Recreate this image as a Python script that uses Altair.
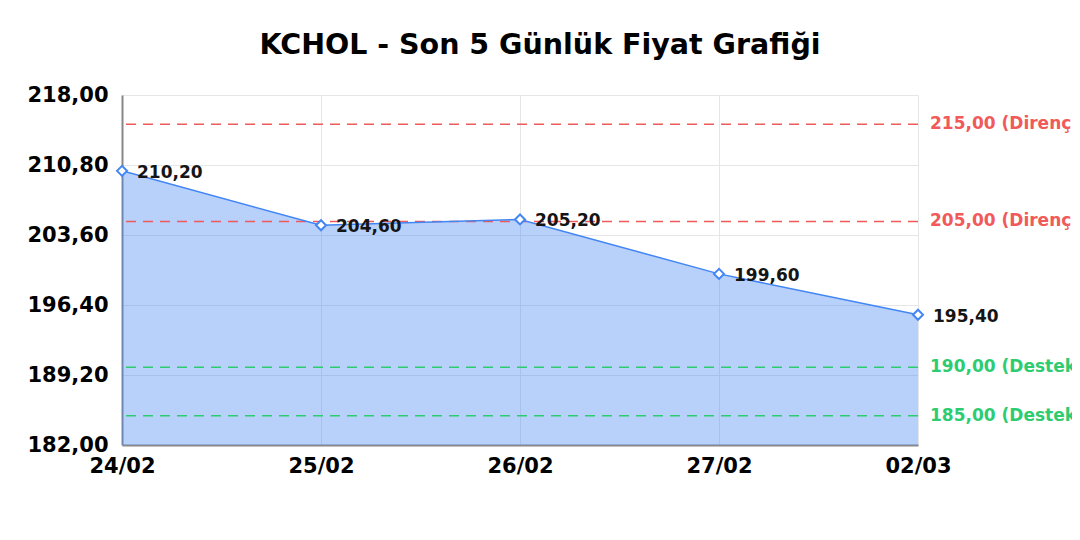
import altair as alt
import pandas as pd

dates = ["24/02", "25/02", "26/02", "27/02", "02/03"]
prices = [210.20, 204.60, 205.20, 199.60, 195.40]

levels = [215.0, 205.0, 190.0, 185.0]
level_kinds = ["Direnç", "Direnç", "Destek", "Destek"]
level_colors = ["#f05a5a", "#f05a5a", "#2ecc71", "#2ecc71"]

y_ticks = [182.0, 189.2, 196.4, 203.6, 210.8, 218.0]

FONT = "DejaVu Sans"
LINE = "#4285f4"

df = pd.DataFrame({"date": dates, "price": prices})
ref = pd.DataFrame({"level": levels, "kind": level_kinds, "color": level_colors})

x_enc = alt.X("date:N", sort=dates,
              scale=alt.Scale(type="point", padding=0),
              axis=alt.Axis(title=None, labelAngle=0, labelFont=FONT, labelFontSize=21,
                            labelFontWeight="bold", labelColor="#000", labelPadding=10,
                            ticks=False, grid=True, gridColor="#e6e6e6",
                            domainColor="#888", domainWidth=2))
y_scale = alt.Scale(domain=[182, 218], nice=False, zero=False)
y_enc = alt.Y("price:Q", scale=y_scale,
              axis=alt.Axis(title=None, values=y_ticks, labelFont=FONT, labelFontSize=21,
                            labelFontWeight="bold", labelColor="#000", labelPadding=14,
                            ticks=False, grid=True, gridColor="#e6e6e6",
                            domainColor="#888", domainWidth=2,
                            labelExpr="replace(format(datum.value, '.2f'), '.', ',')"))

base = alt.Chart(df)

area = base.mark_area(color=LINE, opacity=0.38, clip=True).encode(x=x_enc, y=y_enc)
line = base.mark_line(color=LINE, strokeWidth=1.5).encode(x=x_enc, y=y_enc)
pts = base.mark_point(shape="diamond", filled=True, fill="white", stroke=LINE,
                      strokeWidth=2, size=100, opacity=1).encode(x=x_enc, y=y_enc)
labels = base.transform_calculate(
    lbl="replace(format(datum.price, '.2f'), '.', ',')"
).mark_text(align="left", baseline="middle", dx=15, dy=2, font=FONT, fontSize=17,
            fontWeight="bold", color="#151515").encode(x=x_enc, y=y_enc, text="lbl:N")

rules = alt.Chart(ref).mark_rule(strokeDash=[10, 7], strokeWidth=1.5).encode(
    y=alt.Y("level:Q", scale=y_scale),
    color=alt.Color("color:N", scale=None))
rule_text = alt.Chart(ref).transform_calculate(
    lbl="replace(format(datum.level, '.2f'), '.', ',') + ' (' + datum.kind + ')'"
).mark_text(align="left", baseline="middle", dx=12, font=FONT, fontSize=17,
            fontWeight="bold").encode(
    x=alt.value({"expr": "width"}),
    y=alt.Y("level:Q", scale=y_scale),
    text="lbl:N",
    color=alt.Color("color:N", scale=None))

chart = alt.layer(area, rules, line, pts, labels, rule_text).properties(
    width=796, height=350,
    autosize="none",
    padding={"left": 114, "top": 87, "right": 154, "bottom": 80},
    title=alt.TitleParams("KCHOL - Son 5 Günlük Fiyat Grafiği", font=FONT, fontSize=28.5,
                          fontWeight="bold", color="#000", anchor="middle", dx=20, offset=25),
).configure_view(stroke=None)

chart.save("out.html", embed_options={"renderer": "svg", "actions": False})
